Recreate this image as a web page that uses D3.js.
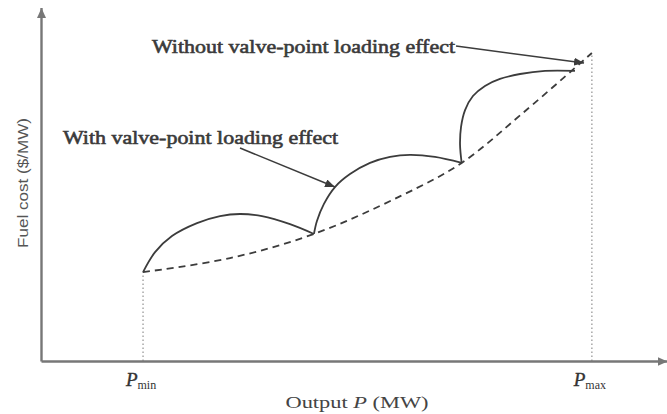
<!DOCTYPE html>
<html>
<head>
<meta charset="utf-8">
<script src="https://cdn.jsdelivr.net/npm/d3@7/dist/d3.min.js"></script>
<style>
  body { margin: 0; background: #fff; }
  svg { display: block; }
</style>
</head>
<body>
<div class="chart"></div>
<script>
// cost curve without valve-point effect (dashed)
var basePower = [81.5, 151, 218, 287, 336, 385, 440];
var baseCost = [25.4, 29.4, 36.3, 47.1, 56.6, 70.9, 88.0];

// cost curve with valve-point effect, one array per ripple
var seg1Power = [81.5, 91.1, 104.6, 124.6, 143.0, 158.9, 176.5, 198.9, 218];
var seg1Cost = [25.4, 31.1, 35.7, 39.4, 41.4, 42.0, 41.4, 39.1, 36.3];
var seg2Power = [218, 220.4, 226.0, 234.8, 246.8, 262.8, 278.8, 294.7, 314.7, 336];
var seg2Cost = [36.3, 40.0, 44.9, 49.7, 53.4, 56.6, 58.3, 58.9, 58.3, 56.6];
var seg3Power = [336, 334.7, 335.5, 338.7, 345.0, 354.6, 366.6, 382.6, 402.6, 426.5];
var seg3Cost = [56.6, 61.7, 66.9, 71.7, 75.7, 78.6, 80.6, 82.0, 82.9, 82.9];

var tickValues = [81.5, 440];
var tickSubs = ['min', 'max'];

var Chart = {
    width: 667,
    height: 414,
    canvas: '',
    curveColor: '#3c3c3c',
    axisColor: '#777',
    serif: '"Liberation Serif", "DejaVu Serif", serif',
    x: d3.scaleLinear().domain([0, 500]).range([41, 667]),
    y: d3.scaleLinear().domain([0, 101]).range([361, 7.5]),

    init: function () {
        this.defineCanvas()
            .addMarkers()
            .addGuides()
            .addAxes()
            .addCurves()
            .addLabels()
            .addNotes();
    },
    defineCanvas: function () {
        this.canvas = d3.select('.chart')
                        .append('svg')
                        .attr('width', this.width)
                        .attr('height', this.height);
        return this;
    },
    addMarkers: function () {
        var defs = this.canvas.append('defs');
        defs.append('marker')
            .attr('id', 'axisArrow')
            .attr('markerUnits', 'userSpaceOnUse')
            .attr('markerWidth', 10).attr('markerHeight', 9)
            .attr('refX', 10).attr('refY', 4.5)
            .attr('orient', 'auto')
            .append('path')
            .attr('d', 'M0,0 L10,4.5 L0,9 Z')
            .attr('fill', this.axisColor);
        defs.append('marker')
            .attr('id', 'noteArrow')
            .attr('markerUnits', 'userSpaceOnUse')
            .attr('markerWidth', 10).attr('markerHeight', 8)
            .attr('refX', 10).attr('refY', 4)
            .attr('orient', 'auto')
            .append('path')
            .attr('d', 'M0,0 L10,4 L0,8 Z')
            .attr('fill', this.curveColor);
        return this;
    },
    addGuides: function () {
        var y = this.y, x = this.x;
        var tops = [baseCost[0], baseCost[baseCost.length - 1]];
        this.canvas.selectAll('.guide')
            .data(tickValues)
            .enter()
            .append('line')
            .attr('class', 'guide')
            .attr('x1', function (d) { return x(d); })
            .attr('x2', function (d) { return x(d); })
            .attr('y1', y(0))
            .attr('y2', function (d, i) { return y(tops[i]); })
            .attr('stroke', '#999')
            .attr('stroke-width', 1.3)
            .attr('stroke-dasharray', '1.5,2.5');
        return this;
    },
    addAxes: function () {
        var xAxis = this.canvas.append('g')
            .attr('transform', 'translate(0,' + this.y(0) + ')')
            .call(d3.axisBottom(this.x).tickValues([]).tickSizeOuter(0));
        var yAxis = this.canvas.append('g')
            .attr('transform', 'translate(' + this.x(0) + ',0)')
            .call(d3.axisLeft(this.y).tickValues([]).tickSizeOuter(0));
        [xAxis, yAxis].forEach(function (g) {
            g.select('.domain')
             .attr('stroke', Chart.axisColor)
             .attr('stroke-width', 2.4)
             .attr('marker-end', 'url(#axisArrow)');
        });
        return this;
    },
    addCurves: function () {
        var x = this.x, y = this.y;
        var line = d3.line()
            .x(function (d) { return x(d[0]); })
            .y(function (d) { return y(d[1]); })
            .curve(d3.curveCatmullRom.alpha(0.5));

        this.canvas.append('path')
            .datum(d3.zip(basePower, baseCost))
            .attr('d', line)
            .attr('fill', 'none')
            .attr('stroke', this.curveColor)
            .attr('stroke-width', 1.8)
            .attr('stroke-dasharray', '7,5');

        var segs = [d3.zip(seg1Power, seg1Cost), d3.zip(seg2Power, seg2Cost), d3.zip(seg3Power, seg3Cost)];
        this.canvas.selectAll('.ripple')
            .data(segs)
            .enter()
            .append('path')
            .attr('class', 'ripple')
            .attr('d', line)
            .attr('fill', 'none')
            .attr('stroke', this.curveColor)
            .attr('stroke-width', 1.8);
        return this;
    },
    addLabels: function () {
        var x = this.x;
        var ticks = this.canvas.selectAll('.tickLabel')
            .data(tickValues)
            .enter()
            .append('text')
            .attr('class', 'tickLabel')
            .attr('x', function (d) { return x(d) - 2; })
            .attr('y', 386)
            .attr('text-anchor', 'middle')
            .attr('font-family', this.serif)
            .attr('fill', '#333');
        ticks.append('tspan')
            .attr('font-style', 'italic')
            .attr('font-size', 19)
            .attr('stroke', '#333')
            .attr('stroke-width', 0.4)
            .text('P');
        ticks.append('tspan')
            .attr('font-size', 12)
            .attr('dy', 3)
            .text(function (d, i) { return tickSubs[i]; });

        var xTitle = this.canvas.append('text')
            .attr('x', 357)
            .attr('y', 408)
            .attr('text-anchor', 'middle')
            .attr('font-family', this.serif)
            .attr('font-size', 16)
            .attr('fill', '#444')
            .attr('textLength', 143)
            .attr('lengthAdjust', 'spacingAndGlyphs');
        xTitle.append('tspan').text('Output ');
        xTitle.append('tspan').attr('font-style', 'italic').text('P');
        xTitle.append('tspan').text(' (MW)');

        this.canvas.append('text')
            .attr('transform', 'translate(22,183) rotate(-90)')
            .attr('text-anchor', 'middle')
            .attr('dominant-baseline', 'central')
            .attr('font-family', '"Liberation Sans", Arial, sans-serif')
            .attr('font-size', 15)
            .attr('fill', '#555')
            .attr('textLength', 130)
            .attr('lengthAdjust', 'spacingAndGlyphs')
            .text('Fuel cost ($/MW)');
        return this;
    },
    addNotes: function () {
        var notes = [
            { text: 'Without valve-point loading effect', x: 152, y: 53, len: 303, from: [456, 46], to: [584, 63] },
            { text: 'With valve-point loading effect', x: 63, y: 144, len: 275, from: [240, 148], to: [335, 187] }
        ];
        var g = this.canvas.selectAll('.note')
            .data(notes)
            .enter()
            .append('g')
            .attr('class', 'note');
        g.append('text')
            .attr('x', function (d) { return d.x; })
            .attr('y', function (d) { return d.y; })
            .attr('font-family', this.serif)
            .attr('font-size', 19)
            .attr('fill', '#3a3a3a')
            .attr('stroke', '#3a3a3a')
            .attr('stroke-width', 0.6)
            .attr('textLength', function (d) { return d.len; })
            .attr('lengthAdjust', 'spacingAndGlyphs')
            .text(function (d) { return d.text; });
        g.append('line')
            .attr('x1', function (d) { return d.from[0]; })
            .attr('y1', function (d) { return d.from[1]; })
            .attr('x2', function (d) { return d.to[0]; })
            .attr('y2', function (d) { return d.to[1]; })
            .attr('stroke', this.curveColor)
            .attr('stroke-width', 1.5)
            .attr('marker-end', 'url(#noteArrow)');
        return this;
    }
};

Chart.init();
</script>
</body>
</html>
